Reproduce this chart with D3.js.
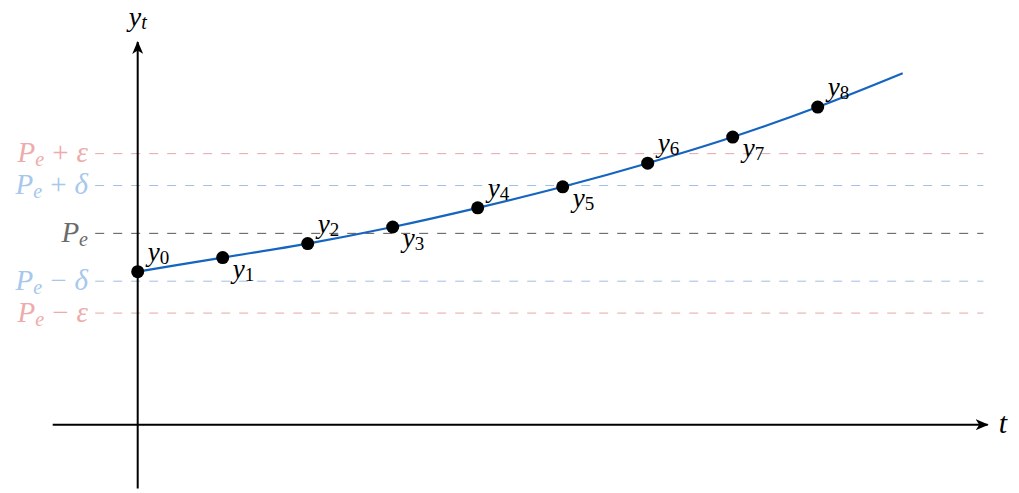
<!DOCTYPE html>
<html>
<head>
<meta charset="utf-8">
<script src="https://cdn.jsdelivr.net/npm/d3@7"></script>
<style>
  html, body { margin: 0; padding: 0; background: #fff; }
</style>
</head>
<body>
<div id="chart"></div>
<script>
// sequence values y_t at t = 0..8
const stepT = [0, 1, 2, 3, 4, 5, 6, 7, 8];
const stepY = [2.40, 2.62, 2.84, 3.10, 3.40, 3.73, 4.10, 4.51, 4.98];

// the smooth curve runs a bit further than the last point
const curveT = [0, 1, 2, 3, 4, 5, 6, 7, 8, 9];
const curveY = [2.40, 2.62, 2.84, 3.10, 3.40, 3.73, 4.10, 4.51, 4.98, 5.51];

// equilibrium and bands
const pe = 3;
const delta = 0.75;
const eps = 1.25;

const width = 1019;
const height = 493;
const serif = `"Liberation Serif", "Noto Serif", serif`;

const x = d3.scaleLinear().domain([-1, 10]).range([52.7, 987.7]);
const y = d3.scaleLinear().domain([-1, 6]).range([488.5, 42]);

const svg = d3.select("#chart")
    .append("svg")
    .attr("width", width)
    .attr("height", height)
    .attr("viewBox", `0 0 ${width} ${height}`);

// arrow head, stealth-like
svg.append("defs").append("marker")
    .attr("id", "arrow")
    .attr("viewBox", "0 0 13 11")
    .attr("refX", 12)
    .attr("refY", 5.5)
    .attr("markerWidth", 13)
    .attr("markerHeight", 11)
    .attr("markerUnits", "userSpaceOnUse")
    .attr("orient", "auto")
    .append("path")
    .attr("d", "M0,0 L13,5.5 L0,11 L3.5,5.5 Z")
    .attr("fill", "#000");

// horizontal reference levels
const levels = [
    { v: pe + eps, color: "#e6a6a6", text: "#efabab", op: "+", sym: "ε" },
    { v: pe + delta, color: "#9ebfe8", text: "#a7c7ec", op: "+", sym: "δ" },
    { v: pe, color: "#555555", text: "#6b6b6b", op: null, sym: null },
    { v: pe - delta, color: "#9ebfe8", text: "#a7c7ec", op: "\u2212", sym: "δ" },
    { v: pe - eps, color: "#e6a6a6", text: "#efabab", op: "\u2212", sym: "ε" }
];

svg.selectAll("line.level")
    .data(levels)
    .enter()
    .append("line")
    .attr("class", "level")
    .attr("x1", x(-0.5))
    .attr("x2", x(9.95))
    .attr("y1", d => y(d.v))
    .attr("y2", d => y(d.v))
    .attr("stroke", d => d.color)
    .attr("stroke-width", 1)
    .attr("stroke-dasharray", "9 9");

const labels = svg.selectAll("text.level")
    .data(levels)
    .enter()
    .append("text")
    .attr("class", "level")
    .attr("x", 88)
    .attr("y", d => y(d.v) + 8.5)
    .attr("text-anchor", "end")
    .style("font-family", serif)
    .attr("font-size", 29)
    .attr("fill", d => d.text);

labels.append("tspan").attr("font-style", "italic").text("P");
labels.append("tspan").attr("font-style", "italic").attr("font-size", 20).attr("dy", 4).text("e");
labels.filter(d => d.op)
    .append("tspan").attr("dy", -4).attr("dx", 8).text(d => d.op);
labels.filter(d => d.sym)
    .append("tspan").attr("font-style", "italic").attr("dx", 8).text(d => d.sym);

// axes
svg.append("line")
    .attr("x1", x(-1)).attr("x2", x(10))
    .attr("y1", y(0)).attr("y2", y(0))
    .attr("stroke", "#000")
    .attr("stroke-width", 2)
    .attr("marker-end", "url(#arrow)");

svg.append("line")
    .attr("x1", x(0)).attr("x2", x(0))
    .attr("y1", y(-1)).attr("y2", y(6))
    .attr("stroke", "#000")
    .attr("stroke-width", 2)
    .attr("marker-end", "url(#arrow)");

svg.append("text")
    .attr("x", x(10) + 11)
    .attr("y", y(0) + 8)
    .style("font-family", serif)
    .attr("font-size", 30)
    .attr("font-style", "italic")
    .text("t");

const yt = svg.append("text")
    .attr("x", x(0))
    .attr("y", 26)
    .attr("text-anchor", "middle")
    .style("font-family", serif)
    .attr("font-size", 28)
    .attr("font-style", "italic");
yt.append("tspan").text("y");
yt.append("tspan").attr("font-size", 20).attr("dy", 3).text("t");

// the curve
const line = d3.line()
    .x((d, i) => x(curveT[i]))
    .y(d => y(d))
    .curve(d3.curveMonotoneX);

svg.append("path")
    .datum(curveY)
    .attr("d", line)
    .attr("fill", "none")
    .attr("stroke", "#1565c0")
    .attr("stroke-width", 2.2);

// sample points
svg.selectAll("circle.pt")
    .data(stepY)
    .enter()
    .append("circle")
    .attr("class", "pt")
    .attr("cx", (d, i) => x(stepT[i]))
    .attr("cy", d => y(d))
    .attr("r", 6.5)
    .attr("fill", "#000");

const ptLabels = svg.selectAll("text.pt")
    .data(stepY)
    .enter()
    .append("text")
    .attr("class", "pt")
    .attr("x", (d, i) => x(stepT[i]) + 10)
    .attr("y", (d, i) => y(d) + (i % 2 === 0 ? -11 : 20))
    .style("font-family", serif)
    .attr("font-size", 27)
    .attr("fill", "#000");

ptLabels.append("tspan").attr("font-style", "italic").text("y");
ptLabels.append("tspan").attr("font-size", 19).attr("dy", 3).text((d, i) => stepT[i]);
</script>
</body>
</html>
